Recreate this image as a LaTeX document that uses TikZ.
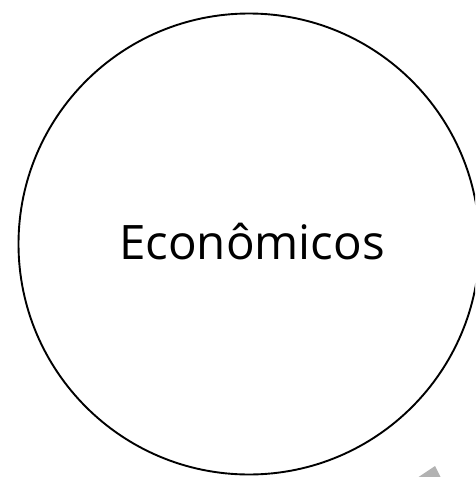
\documentclass[tikz,border=0pt]{standalone}
\usepackage{fontspec}
\setmainfont{Open Sans}
\begin{document}
\begin{tikzpicture}[x=1pt,y=-1pt,
  circ/.style={draw=black,line width=1.9pt,circle,minimum size=461pt,inner sep=0pt},
  lbl/.style={font=\fontsize{47.5}{56}\selectfont}]
\useasboundingbox (0,0) rectangle (475,477);
\clip (0,0) rectangle (475,477);
\node[circ] (c) at (249,244) {};
\node[lbl] (t) at (252,242) {Econômicos};
\fill[gray!60] (417,478) -- (435,466) -- (441,478) -- cycle;
\end{tikzpicture}
\end{document}
